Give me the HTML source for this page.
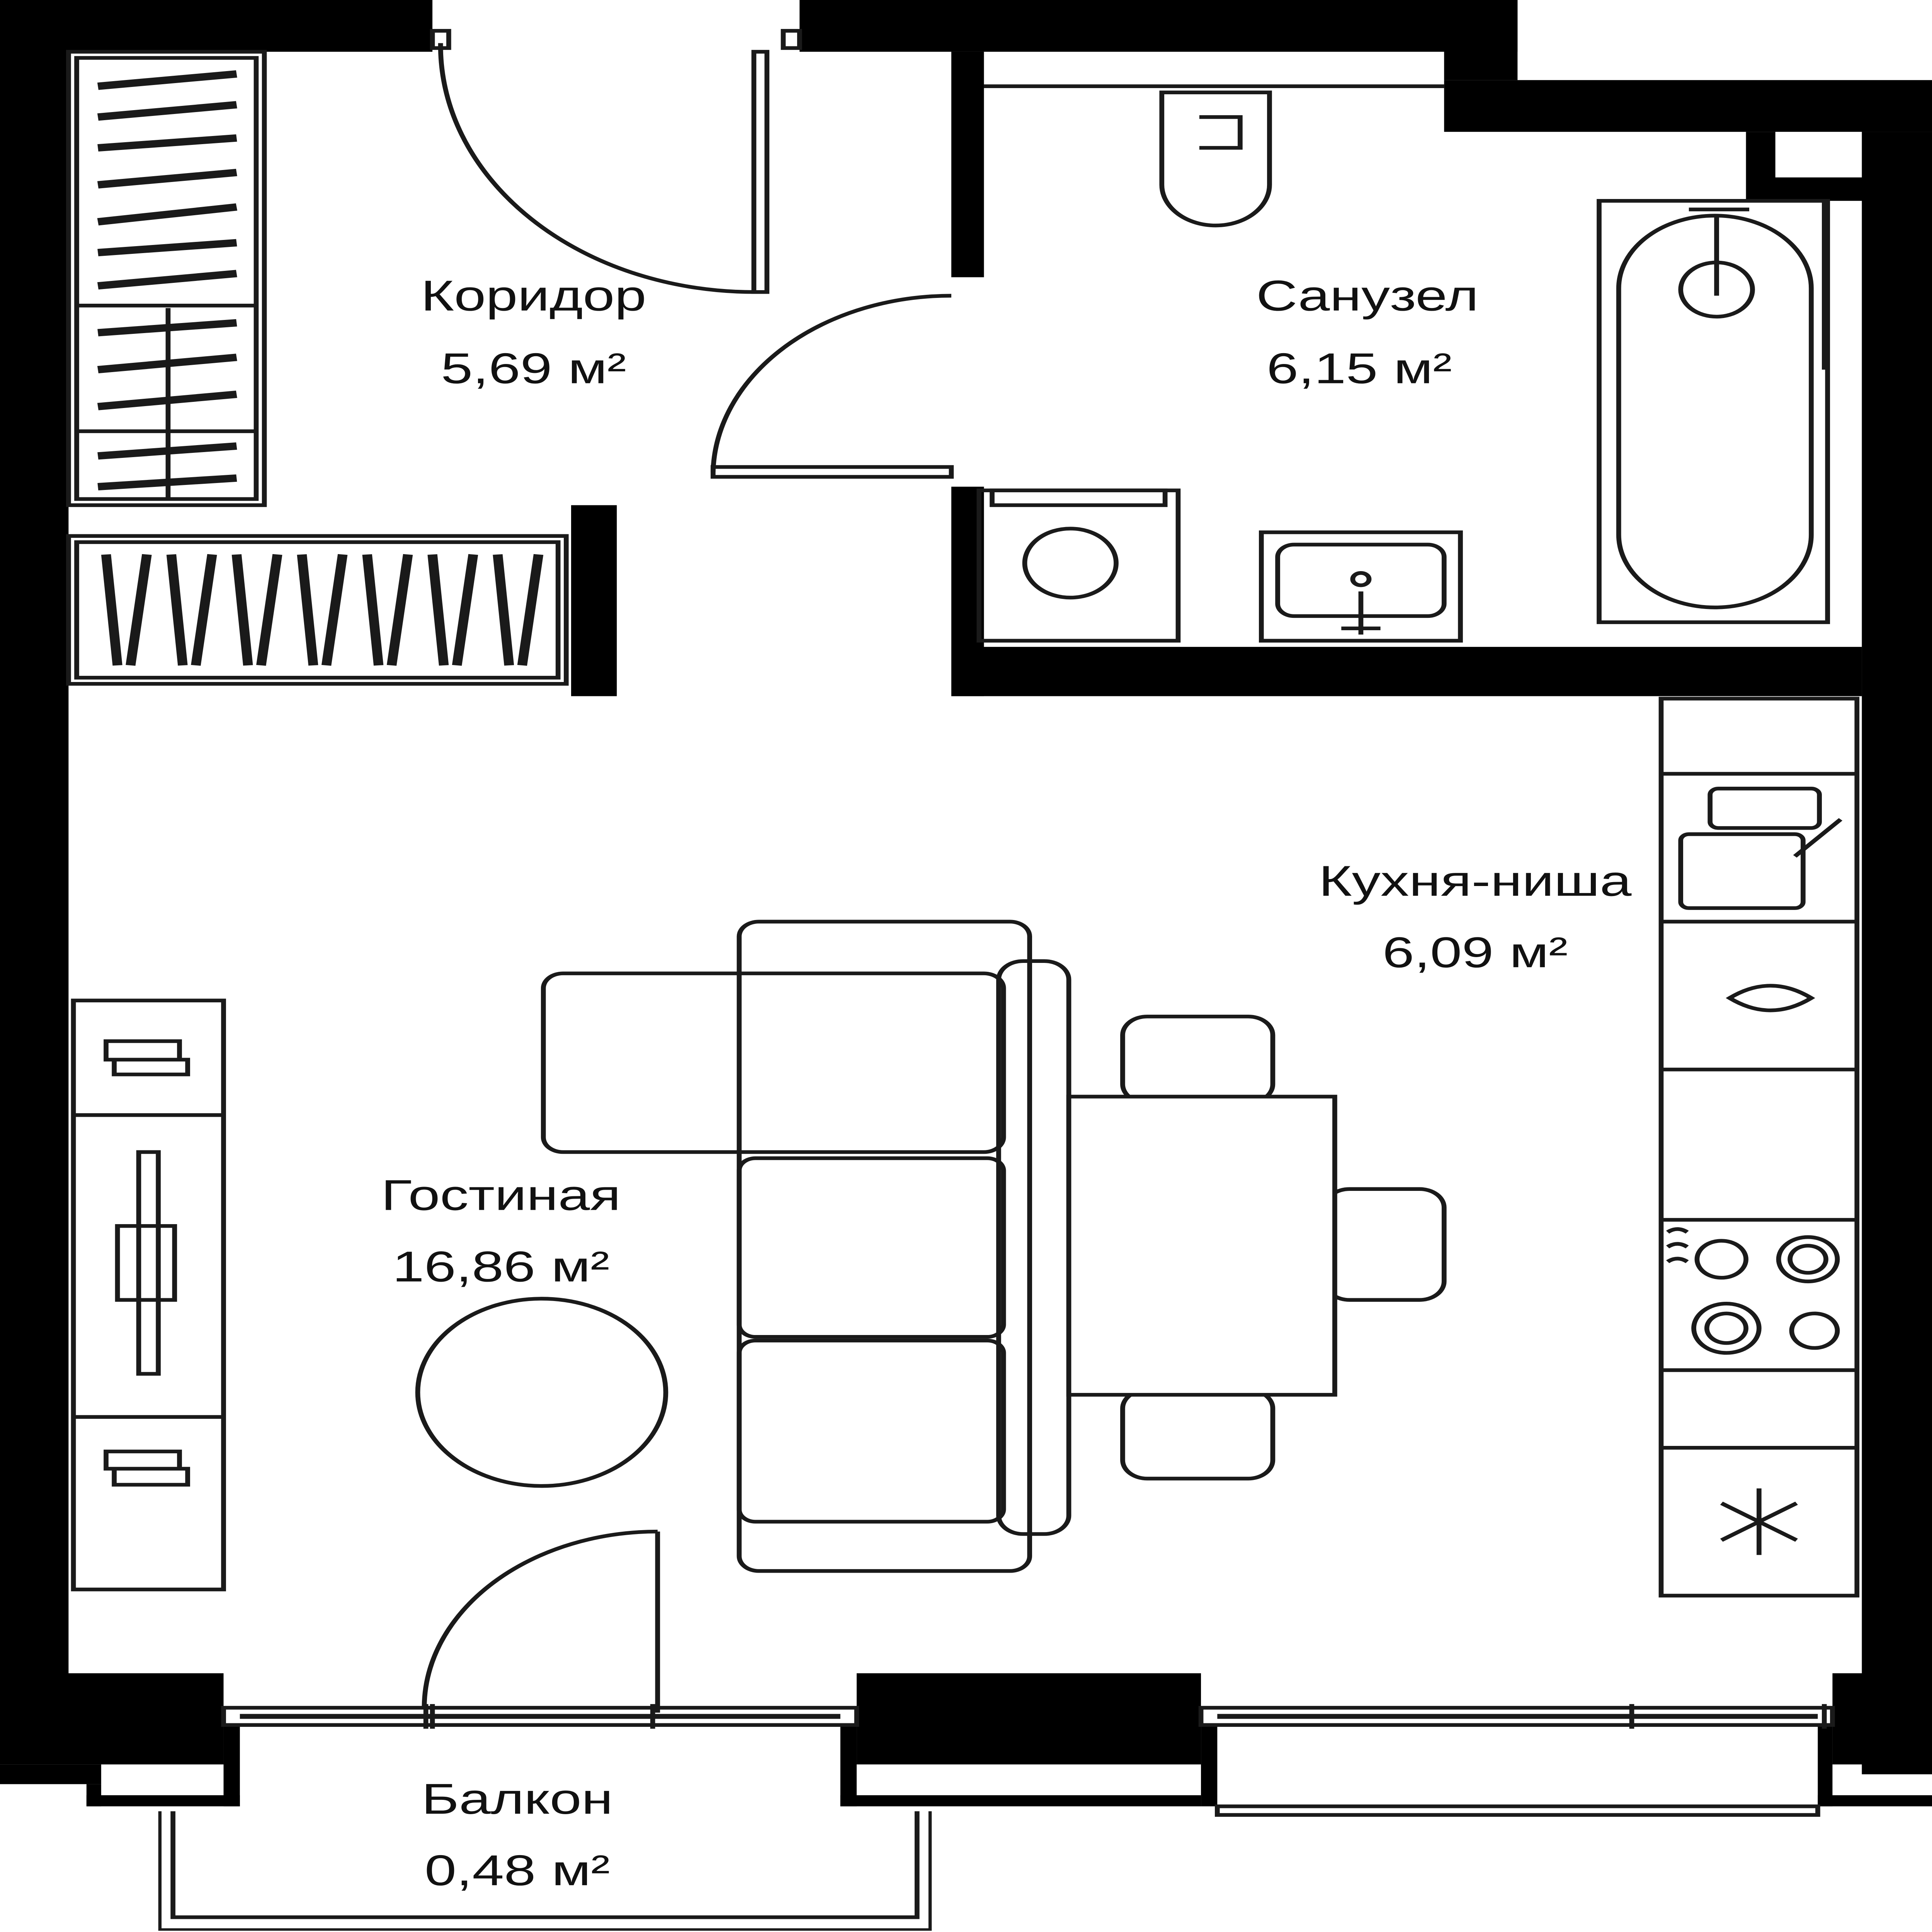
<!DOCTYPE html>
<html><head><meta charset="utf-8"><style>
html,body{margin:0;padding:0;background:#fff;width:100%;height:100%;overflow:hidden}
svg{display:block;position:absolute;left:0;top:0;width:100vw;height:100vh}
text{font-family:"Liberation Sans",sans-serif;font-size:35px;fill:#111;text-anchor:middle}
</style></head><body>
<svg viewBox="0 0 1184 1568" preserveAspectRatio="none" xmlns="http://www.w3.org/2000/svg">
<rect width="1184" height="1568" fill="#fff"/>
<g fill="#000">
<rect x="0" y="0" width="42" height="1385"/>
<rect x="0" y="0" width="265" height="42"/>
<rect x="490" y="0" width="440" height="42"/>
<rect x="885" y="0" width="45" height="65"/>
<rect x="885" y="65" width="299" height="42"/>
<rect x="1070" y="107" width="114" height="56"/>
<rect x="1141" y="107" width="43" height="1333"/>
<rect x="583" y="42" width="20" height="183"/>
<rect x="583" y="395" width="20" height="170"/>
<rect x="583" y="525" width="558" height="40"/>
<rect x="350" y="410" width="28" height="155"/>
<rect x="0" y="1358" width="137" height="74"/>
<rect x="0" y="1432" width="62" height="16"/>
<rect x="53" y="1448" width="9" height="18"/>
<rect x="53" y="1457" width="94" height="9"/>
<rect x="137" y="1401" width="10" height="65"/>
<rect x="525" y="1358" width="211" height="74"/>
<rect x="515" y="1401" width="10" height="65"/>
<rect x="515" y="1457" width="221" height="9"/>
<rect x="736" y="1401" width="10" height="65"/>
<rect x="1123" y="1358" width="61" height="74"/>
<rect x="1114" y="1401" width="9" height="65"/>
<rect x="1114" y="1457" width="70" height="9"/>
</g>
<rect x="1088" y="107" width="53" height="37" fill="#fff"/>
<g fill="none" stroke="#1a1a1a" stroke-width="3">
<line x1="603" y1="70" x2="885" y2="70"/>
<rect x="137" y="1386" width="388" height="14"/>
<line x1="147" y1="1393" x2="515" y2="1393" stroke-width="4"/>
<rect x="736" y="1386" width="387" height="14"/>
<line x1="746" y1="1393" x2="1114" y2="1393" stroke-width="4"/>
<path d="M261 1383 v20 M400 1383 v20 M1000 1383 v20 M1118 1383 v20 M265 1383 v20" stroke-width="3"/>
<rect x="746" y="1466" width="368" height="7"/>
<path d="M98 1470 V1566 H570 V1470" stroke-width="2"/>
<path d="M106 1470 V1556 H562 V1470" stroke-width="3"/>
<rect x="42" y="42" width="120" height="368"/>
<rect x="47" y="47" width="110" height="358"/>
<line x1="47" y1="248" x2="157" y2="248"/>
<line x1="47" y1="350" x2="157" y2="350"/>
<path d="M60 70 L145 60 M60 95 L145 85 M60 120 L145 112 M60 150 L145 140 M60 180 L145 168 M60 205 L145 197 M60 232 L145 222 M60 270 L145 262 M60 300 L145 290 M60 330 L145 320 M60 370 L145 362 M60 395 L145 388" stroke-width="6"/>
<line x1="103" y1="250" x2="103" y2="405"/>
<rect x="42" y="435" width="305" height="120"/>
<rect x="47" y="440" width="295" height="110"/>
<path d="M65 450 L72 540 M90 450 L80 540 M105 450 L112 540 M130 450 L120 540 M145 450 L152 540 M170 450 L160 540 M185 450 L192 540 M210 450 L200 540 M225 450 L232 540 M250 450 L240 540 M265 450 L272 540 M290 450 L280 540 M305 450 L312 540 M330 450 L320 540" stroke-width="6"/>
<path d="M270 35 A192 200 0 0 0 462 237"/>
<rect x="462" y="42" width="8" height="195"/>
<rect x="265" y="25" width="10" height="14"/>
<rect x="480" y="25" width="10" height="14"/>
<path d="M583 240 A146 146 0 0 0 437 383"/>
<rect x="437" y="379" width="146" height="8"/>
<path d="M260 1385 A143 143 0 0 1 403 1243"/>
<line x1="403" y1="1243" x2="403" y2="1390"/>
<path d="M712 75 H778 V150 A33 33 0 0 1 712 150 Z"/>
<path d="M735 95 H760 V120 H735"/>
<rect x="980" y="163" width="140" height="342"/>
<rect x="992" y="175" width="118" height="318" rx="59"/>
<circle cx="1052" cy="235" r="22"/>
<path d="M1052 175 V240 M1035 170 H1072"/>
<line x1="1118" y1="163" x2="1118" y2="300"/>
<rect x="600" y="398" width="122" height="122"/>
<rect x="608" y="398" width="106" height="12"/>
<circle cx="656" cy="457" r="28"/>
<rect x="773" y="432" width="122" height="88"/>
<rect x="783" y="442" width="102" height="58" rx="10"/>
<circle cx="834" cy="470" r="5"/>
<path d="M834 480 V515 M822 510 H846"/>
<rect x="1018" y="567" width="120" height="728"/>
<path d="M1018 628 H1138 M1018 748 H1138 M1018 868 H1138 M1018 990 H1138 M1018 1112 H1138 M1018 1175 H1138"/>
<rect x="1048" y="640" width="67" height="32" rx="5"/>
<rect x="1030" y="677" width="75" height="60" rx="5"/>
<path d="M1100 695 L1128 665"/>
<path d="M1060 810 Q1085 790 1110 810 Q1085 830 1060 810 Z"/>
<circle cx="1055" cy="1022" r="15"/>
<circle cx="1108" cy="1022" r="18"/><circle cx="1108" cy="1022" r="11"/>
<circle cx="1058" cy="1078" r="20"/><circle cx="1058" cy="1078" r="12"/>
<circle cx="1112" cy="1080" r="14"/>
<path d="M1022 1000 q6 -5 12 0 M1022 1012 q6 -5 12 0 M1022 1024 q6 -5 12 0"/>
<path d="M1078 1208 V1262 M1055 1220 L1101 1250 M1055 1250 L1101 1220"/>
<rect x="453" y="748" width="178" height="527" rx="12"/>
<rect x="612" y="780" width="43" height="465" rx="15"/>
<rect x="333" y="790" width="282" height="145" rx="12"/>
<rect x="453" y="940" width="162" height="145" rx="10"/>
<rect x="453" y="1088" width="162" height="147" rx="10"/>
<rect x="688" y="825" width="92" height="70" rx="15"/>
<rect x="688" y="1128" width="92" height="72" rx="15"/>
<rect x="812" y="965" width="73" height="90" rx="15"/>
<rect x="655" y="890" width="163" height="242" fill="#fff"/>
<circle cx="332" cy="1130" r="76"/>
<rect x="45" y="812" width="92" height="478"/>
<path d="M45 905 H137 M45 1150 H137"/>
<rect x="85" y="935" width="12" height="180"/>
<rect x="72" y="995" width="35" height="60"/>
<path d="M65 845 H110 V860 H65 Z M70 860 H115 V872 H70 Z M65 1178 H110 V1192 H65 Z M70 1192 H115 V1205 H70 Z"/>
</g>
<text x="327" y="252">Коридор</text>
<text x="327" y="311">5,69 м²</text>
<text x="838" y="252">Санузел</text>
<text x="833" y="311">6,15 м²</text>
<text x="904" y="727">Кухня-ниша</text>
<text x="904" y="785">6,09 м²</text>
<text x="307" y="982">Гостиная</text>
<text x="307" y="1040">16,86 м²</text>
<text x="317" y="1472">Балкон</text>
<text x="317" y="1530">0,48 м²</text>
</svg>
</body></html>
